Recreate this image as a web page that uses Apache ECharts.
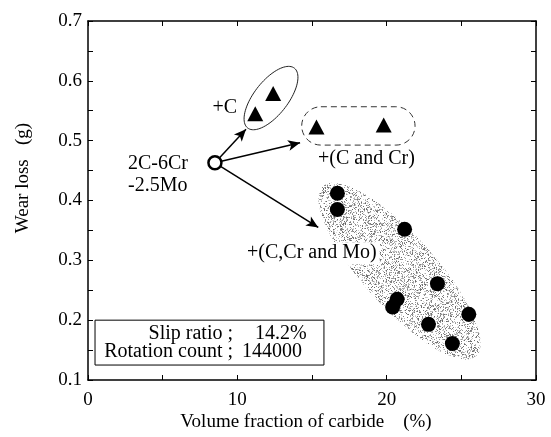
<!DOCTYPE html>
<html>
<head>
<meta charset="utf-8">
<script src="https://cdn.jsdelivr.net/npm/echarts@6/dist/echarts.min.js"></script>
<style>
  html, body { margin: 0; padding: 0; background: #fff; }
  #chart { width: 551px; height: 437px; }
</style>
</head>
<body>
<div id="chart"></div>
<script>
// Axis ranges / tick labels
const xTicks = [0, 10, 20, 30];
const yTicks = [0.1, 0.2, 0.3, 0.4, 0.5, 0.6, 0.7];

// Volume fraction of carbide (%) vs wear loss (g)
const baseAlloy = [[8.5, 0.463]];                       // 2C-6Cr-2.5Mo
const plusC = [[11.2, 0.545], [12.4, 0.579]];
const plusCCr = [[15.3, 0.523], [19.8, 0.526]];
const plusCCrMo = [
  [16.7, 0.412], [16.7, 0.385], [21.2, 0.352], [23.4, 0.261],
  [20.7, 0.235], [20.4, 0.222], [25.5, 0.210], [22.8, 0.193], [24.4, 0.161]
];

// Arrow heads, pointing from the base alloy to each group
const arrowTargets = [[10.58, 0.519], [14.2, 0.4965], [15.42, 0.355]];

const FONT = "'Liberation Serif', 'Times New Roman', serif";
const FS = 19;      // axis text
const FA = 20;      // annotation text

const chart = echarts.init(document.getElementById('chart'));

function axisCommon(extra) {
  return Object.assign({
    type: 'value',
    axisLine: { show: true, onZero: false, lineStyle: { color: '#000', width: 1.5 } },
    axisTick: { show: true, inside: true, length: 5, lineStyle: { color: '#000', width: 1 } },
    minorTick: { show: true, splitNumber: 2, length: 5, lineStyle: { color: '#000', width: 1 } },
    splitLine: { show: false },
    minorSplitLine: { show: false }
  }, extra);
}

const xMin = xTicks[0], xMax = xTicks[xTicks.length - 1];
const yMin = yTicks[0], yMax = yTicks[yTicks.length - 1];

const solid = { color: '#000', opacity: 1 };

chart.setOption({
  animation: false,
  backgroundColor: '#fff',
  grid: { left: 88, top: 21, right: 15, bottom: 57 },
  xAxis: [
    axisCommon({
      min: xMin, max: xMax, interval: xTicks[1] - xTicks[0], position: 'bottom',
      axisLabel: { margin: 11, color: '#000', fontFamily: FONT, fontSize: FS }
    }),
    axisCommon({
      min: xMin, max: xMax, interval: xTicks[1] - xTicks[0], position: 'top',
      axisLabel: { show: false }
    })
  ],
  yAxis: [
    axisCommon({
      min: yMin, max: yMax, interval: 0.1, position: 'left',
      axisLabel: { margin: 6, color: '#000', fontFamily: FONT, fontSize: FS,
        formatter: v => v.toFixed(1) }
    }),
    axisCommon({
      min: yMin, max: yMax, interval: 0.1, position: 'right',
      axisLabel: { show: false }
    })
  ],
  series: [
    {
      name: 'arrows', type: 'line', data: [], z: 2,
      markLine: {
        silent: true, animation: false,
        symbol: ['none', 'arrow'], symbolSize: [8, 12],
        label: { show: false },
        lineStyle: { color: '#000', width: 1.5, type: 'solid', opacity: 1 },
        emphasis: { disabled: true },
        data: arrowTargets.map(t => [{ coord: baseAlloy[0] }, { coord: t }])
      }
    },
    {
      name: '+C', type: 'scatter', data: plusC, z: 4,
      symbol: 'triangle', symbolSize: [16, 15],
      itemStyle: solid
    },
    {
      name: '+(C and Cr)', type: 'scatter', data: plusCCr, z: 4,
      symbol: 'triangle', symbolSize: [16, 15],
      itemStyle: solid
    },
    {
      name: '+(C,Cr and Mo)', type: 'scatter', data: plusCCrMo, z: 4,
      symbol: 'circle', symbolSize: 15,
      itemStyle: solid
    },
    {
      name: '2C-6Cr-2.5Mo', type: 'scatter', data: baseAlloy, z: 5,
      symbol: 'circle', symbolSize: 13,
      itemStyle: { color: '#fff', opacity: 1, borderColor: '#000', borderWidth: 2.5 }
    }
  ]
});

// ---- annotations placed in data space ----
const px = p => chart.convertToPixel({ xAxisIndex: 0, yAxisIndex: 0 }, p);

function ellipsePoints(a, b, halfWidth, n) {
  const p1 = px(a), p2 = px(b);
  const cx = (p1[0] + p2[0]) / 2, cy = (p1[1] + p2[1]) / 2;
  const dx = p2[0] - p1[0], dy = p2[1] - p1[1];
  const ra = Math.hypot(dx, dy) / 2, phi = Math.atan2(dy, dx);
  const pts = [];
  for (let i = 0; i < n; i++) {
    const t = i / n * Math.PI * 2;
    const u = ra * Math.cos(t), v = halfWidth * Math.sin(t);
    pts.push([cx + u * Math.cos(phi) - v * Math.sin(phi),
              cy + u * Math.sin(phi) + v * Math.cos(phi)]);
  }
  return pts;
}

// speckled grey texture for the C,Cr,Mo region
function stipple() {
  const N = 97;
  const c = document.createElement('canvas');
  c.width = c.height = N;
  const ctx = c.getContext('2d');
  const img = ctx.createImageData(N, N);
  const h = (x, y, s) => {
    const v = Math.sin(x * 12.9898 + y * 78.233 + s * 37.719) * 43758.5453;
    return v - Math.floor(v);
  };
  for (let y = 0; y < N; y++) {
    for (let x = 0; x < N; x++) {
      const k = (y * N + x) * 4;
      if (h(x, y, 1) < 0.32) {
        const g = 100 + Math.floor(h(x, y, 2) * 120);
        img.data[k] = img.data[k + 1] = img.data[k + 2] = g;
        img.data[k + 3] = 255;
      } else {
        img.data[k + 3] = 0;
      }
    }
  }
  ctx.putImageData(img, 0, 0);
  return c;
}

function textAt(p, text, align, opts) {
  const q = px(p);
  return {
    type: 'text', x: q[0], y: q[1], z: 10,
    style: Object.assign({ text: text, font: FA + 'px ' + FONT, fill: '#000',
      textAlign: align, textVerticalAlign: 'middle' }, opts || {})
  };
}

const stadTL = px([14.31, 0.5567]), stadBR = px([21.9, 0.4926]);
const boxTL = px([0.47, 0.2]), boxBR = px([15.8, 0.125]);

chart.setOption({
  graphic: [
    {
      type: 'polygon', z: 0, silent: true,
      shape: { points: ellipsePoints([15.74, 0.424], [25.98, 0.140], 36, 90) },
      style: { fill: { image: stipple(), repeat: 'repeat' }, stroke: null }
    },
    {
      type: 'polygon', z: 1, silent: true,
      shape: { points: ellipsePoints([10.69, 0.5212], [13.82, 0.6212], 17, 90) },
      style: { fill: null, stroke: '#222', lineWidth: 1 }
    },
    {
      type: 'rect', z: 1, silent: true,
      shape: { x: stadTL[0], y: stadTL[1], width: stadBR[0] - stadTL[0],
        height: stadBR[1] - stadTL[1], r: (stadBR[1] - stadTL[1]) / 2 },
      style: { fill: null, stroke: '#333', lineWidth: 1, lineDash: [6, 4] }
    },
    {
      type: 'rect', z: 6, silent: true,
      shape: { x: boxTL[0], y: boxTL[1], width: boxBR[0] - boxTL[0], height: boxBR[1] - boxTL[1] },
      style: { fill: '#fff', stroke: '#000', lineWidth: 1 }
    },
    textAt([9.71, 0.178], 'Slip ratio ;', 'right'),
    textAt([11.19, 0.178], '14.2%', 'left'),
    textAt([9.71, 0.1465], 'Rotation count ;', 'right'),
    textAt([10.31, 0.1465], '144000', 'left'),
    textAt([9.98, 0.5545], '+C', 'right'),
    textAt([2.68, 0.461], '2C-6Cr', 'left'),
    textAt([2.68, 0.424], '-2.5Mo', 'left'),
    textAt([15.4, 0.469], '+(C and Cr)', 'left'),
    textAt([10.65, 0.312], '+(C,Cr and Mo)', 'left',
      { backgroundColor: '#fff', padding: [1, 3, 1, 0] }),
    {
      type: 'text', x: 23, y: 178, rotation: Math.PI / 2,
      style: { text: 'Wear loss   (g)', font: FS + 'px ' + FONT, fill: '#000',
        textAlign: 'center', textVerticalAlign: 'middle' }
    },
    {
      type: 'text', x: 306, y: 422,
      style: { text: 'Volume fraction of carbide    (%)', font: FS + 'px ' + FONT, fill: '#000',
        textAlign: 'center', textVerticalAlign: 'middle' }
    }
  ]
});
</script>
</body>
</html>
